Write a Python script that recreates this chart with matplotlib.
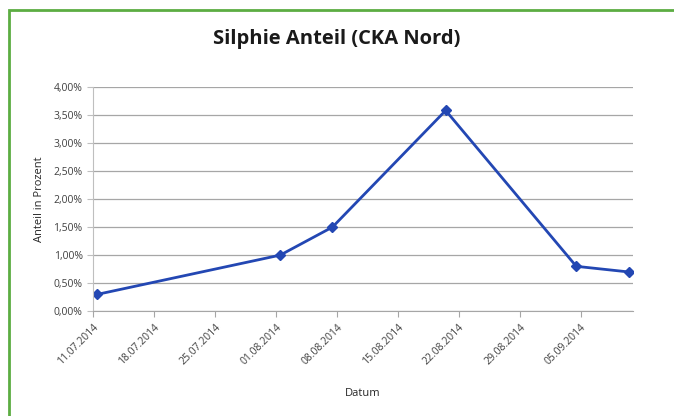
import datetime as dt
import matplotlib
matplotlib.use("Agg")
import matplotlib.pyplot as plt
import matplotlib.dates as mdates
from matplotlib.ticker import FuncFormatter, MultipleLocator
from matplotlib.patches import Rectangle

dates = ["11.07.2014", "01.08.2014", "07.08.2014", "20.08.2014", "04.09.2014", "10.09.2014"]
anteil = [0.30, 1.00, 1.50, 3.58, 0.80, 0.70]

# Excel date axis puts each point in the middle of its day slot
x = [dt.datetime.strptime(d, "%d.%m.%Y") + dt.timedelta(hours=12) for d in dates]
start = dt.datetime(2014, 7, 11)

plt.rcParams['font.family'] = ['Open Sans', 'DejaVu Sans']

fig = plt.figure(figsize=(6.74, 4.16), dpi=100)
ax = fig.add_axes([0.138, 0.252, 0.801, 0.539])

ax.plot(x, anteil, color="#2347b3", linewidth=2, marker="D", markersize=5)

ax.set_ylim(0, 4)
ax.yaxis.set_major_locator(MultipleLocator(0.5))
ax.yaxis.set_major_formatter(FuncFormatter(lambda v, p: ("%.2f%%" % v).replace(".", ",")))
ax.set_xlim(start, dt.datetime(2014, 9, 11))
ax.set_xticks([start + dt.timedelta(days=7 * i) for i in range(9)])
ax.xaxis.set_major_formatter(mdates.DateFormatter("%d.%m.%Y"))
plt.setp(ax.get_xticklabels(), rotation=45, ha="right", rotation_mode="anchor")

ax.grid(axis="y", color="#a6a6a6", linewidth=0.9)
ax.set_axisbelow(True)
for s in ["top", "right"]:
    ax.spines[s].set_visible(False)
ax.spines["left"].set_color("#bfbfbf")
ax.spines["bottom"].set_color("#a6a6a6")
ax.tick_params(axis="both", labelsize=7.5, length=4, width=0.8)
ax.tick_params(axis="y", colors="#bfbfbf", labelcolor="#404040")
ax.tick_params(axis="x", colors="#a6a6a6", labelcolor="#404040")

ax.set_xlabel("Datum", fontsize=8, color="#262626", labelpad=15)
ax.set_ylabel("Anteil in Prozent", fontsize=8, color="#262626", labelpad=6)
fig.text(0.5, 0.906, "Silphie Anteil (CKA Nord)", ha="center", va="center",
         fontsize=14.5, fontweight="bold", color="#1a1a1a")

fig.add_artist(Rectangle((9 / 674, -0.1), 1.2, 1.1 - 10 / 416,
                         transform=fig.transFigure, fill=False,
                         edgecolor="#5cad42", linewidth=2))

fig.savefig("out.png", dpi=100)
